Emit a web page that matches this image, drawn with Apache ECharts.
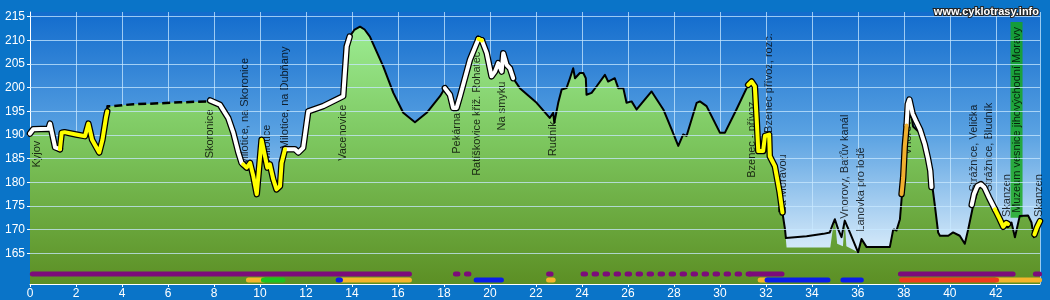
<!DOCTYPE html>
<html><head><meta charset="utf-8">
<script src="https://cdn.jsdelivr.net/npm/echarts@6/dist/echarts.min.js"></script>
<style>html,body{margin:0;padding:0;background:#0a74c8;}#c{width:1050px;height:300px;}</style>
</head><body><div id="c"></div>
<script>
// ---- DATA ----
const kmTicks = [0,2,4,6,8,10,12,14,16,18,20,22,24,26,28,30,32,34,36,38,40,42];
const elevTicks = [165,170,175,180,185,190,195,200,205,210,215];

// terrain profile [km, elevation m]
const terrain = [
[0,190.3],[0.14,191.2],[0.8,191.3],[0.87,192.4],[0.95,192.3],[1.09,187.4],[1.3,187],[1.38,190.5],[1.5,190.6],[2.0,190.1],[2.39,189.75],[2.54,192.4],[2.7,189],[3.01,186.3],[3.15,189],[3.3,193.6],[3.36,195],[3.37,196.1],[3.55,196.1],[4.5,196.5],[5.14,196.6],[6.5,196.9],[7.75,197.1],[7.83,197.3],
[8.26,196.4],[8.62,193.6],[8.84,190.5],[9.06,186.3],[9.2,184.1],[9.27,183.8],[9.42,183.1],[9.57,184.1],[9.71,181.3],[9.86,177.5],[10.07,189],[10.22,185.5],[10.32,183.1],[10.43,183.8],[10.58,180.6],[10.72,178.5],[10.87,179.2],[10.94,184.1],[11.09,187],[11.52,187],[11.67,186.3],[11.88,187.3],[12.1,195],[12.75,196.1],[13.62,198.2],[13.7,203.8],[13.77,208.7],[13.9,210.8],
[14.1,212.2],[14.35,212.9],[14.55,212.3],[14.78,210.8],[15.36,204.5],[15.8,198.9],[16.23,194.7],[16.74,192.7],[17.25,194.7],[17.83,198.2],[18.04,199.9],[18.12,200.3],[18.26,198.5],[18.4,195.7],[18.55,195.7],[18.7,198.2],[19.13,205.9],[19.5,210.3],[19.57,210.5],[19.65,210.0],[19.86,207.3],[20.07,202.4],[20.22,203.4],[20.36,205.2],[20.51,203.4],[20.58,207.3],[20.73,204.8],[20.87,204.1],[21.01,202.0],
[21.3,199.9],[22.03,196.8],[22.6,193.6],[22.75,194.7],[22.8,192.6],[22.97,196.8],[23.12,199.6],[23.33,199.9],[23.48,202],[23.62,204.1],[23.7,202],[23.91,203.1],[24.06,203.1],[24.17,202],[24.2,198.5],[24.42,198.9],[24.64,200.3],[25,202.7],[25.14,201.3],[25.43,202],[25.58,199.9],[25.8,199.9],[25.94,196.8],[26.16,197.1],[26.38,195.4],[27.03,199.2],[27.54,195.4],[27.9,191.2],[28.19,187.7],[28.4,190.1],[28.55,189.8],[28.99,196.8],[29.13,197.1],[29.42,196.1],[30,190.5],[30.22,190.5],[30.72,195.4],
[31.23,200.6],[31.38,201.3],[31.52,200.3],[31.6,193.3],[31.67,186.6],[31.88,186.6],[31.96,189.8],[32.14,190.1],[32.17,185.5],[32.39,183.4],[32.6,177.8],[32.72,173.6],[32.83,170.1],
[32.9,166.2],[34.8,166.2],[34.95,171.5],[35.0,172.2],[35.1,167],[35.35,166.5],[35.43,171.9],[35.5,166.5],[36.01,165.2],[36.16,168],[36.38,166.3],[37.39,166.3],[37.54,170.1],
[37.68,169.8],[37.83,172.2],[37.97,180.6],[38.19,194.7],[38.29,195.4],[38.4,191.8],[38.62,190.8],[38.77,189.8],[38.99,184.9],[39.2,180.6],[39.35,175],[39.49,169.4],[39.57,168.7],[39.93,168.7],[40.14,169.4],[40.43,168.7],[40.65,167],[40.8,170.1],[41.01,175],[41.23,178.5],[41.38,179.2],[41.6,177.8],[41.96,174.3],[42.32,170.8],[42.53,170.5],[42.68,171.5],[42.83,168.4],[43.04,172.9],[43.12,173],[43.4,173],[43.55,171.5],[43.65,168.4],[43.77,170.5],[43.92,171.5]
];
// route line on the embankment above the floodplain
const routeLow = [[32.83,170.1],[32.87,168.2],[33.77,168.6],[34.5,169.1],[34.78,169.4],[34.9,171],[35.0,172.2],[35.14,170.1],[35.29,168.4],[35.43,171.9],[35.65,169.4],[36.01,165.2],[36.16,168],[36.38,166.3],[37.39,166.3],[37.54,170.1]];

const dashedKm = [3.36, 7.83];
const floodKm = [32.83, 37.54];

// highlighted route stretches taken from the terrain profile (km ranges)
const whiteKm = [[0,1.3],[7.83,9.27],[11.09,13.9],[18.04,19.5],[19.65,21.01]];
const yellowKm = [[1.3,3.36],[9.27,11.09],[19.5,19.65],[31.23,32.72]];
// highlighted stretches drawn apart from the terrain outline
const whiteVnorovy = [[38.12,192],[38.17,196.5],[38.24,197.5],[38.31,197.2],[38.38,194.5],[38.52,193.0],[38.7,191.2],[38.91,188],[39.05,185],[39.15,182.4],[39.2,179]];
const whiteStraznice = [[40.95,175.2],[41.05,177.5],[41.2,179.2],[41.35,179.6],[41.5,178.9],[41.7,176.8],[41.96,174.3]];
const yellowSkanzen1 = [[41.96,174.3],[42.17,172.2],[42.32,170.6],[42.45,171.4],[42.53,171.2]];
const yellowSkanzen2 = [[43.68,169],[43.8,170.6],[43.92,171.8]];
const orangeVnorovy = [[37.9,177.5],[37.97,181],[38.04,187.6],[38.12,192]];

// surface bands at the bottom (km ranges)
const purpleSolid = [[0.1,16.5],[31.3,32.7],[37.85,42.75],[43.72,43.9]];
const purpleDotted = [[18.5,19.2],[22.55,22.75],[24.05,31.3]];
const orangeBand = [[9.5,10.15],[13.55,16.5],[22.55,22.75],[31.75,32.0],[42.03,43.9]];
const greenBand = [[10.15,11.0]];
const blueBand = [[13.4,13.5],[19.4,20.5],[32.05,34.7],[35.35,36.15]];
const redBand = [[37.9,42.03]];

// place names: [km, elevation of the text end, name]
const places = [
[0.30,188.8,'Kyjov'],
[7.83,195.4,'Skoronice'],
[9.35,206.3,'Milotice, na Skoronice'],
[10.3,192.2,'Milotice'],
[11.09,208.7,'Milotice, na Dubňany'],
[13.61,196.4,'Vacenovice'],
[18.55,194.7,'Pekárna'],
[19.42,207.6,'Ratíškovice křiž. Rohatec'],
[20.51,201.3,'Na smyku'],
[22.75,192.9,'Rudník'],
[31.38,197.1,'Bzenec - přívoz'],
[32.14,211.5,'Bzenec přívoz, rozc.'],
[32.75,185.9,'Za Moravou'],
[35.43,194.3,'Vnorovy, Baťův kanál'],
[36.13,187.4,'Lanovka pro lodě'],
[38.17,194.3,'Vnorovy'],
[41.06,196.4,'Strážnice, Velička'],
[41.71,196.8,'Strážnice, Bludník'],
[42.47,181.7,'Skanzen'],
[42.9,213.9,'Muzeum vesnice jihovýchodní Moravy'],
[43.88,181.7,'Skanzen']
];
const museumName = 'Muzeum vesnice jihovýchodní Moravy';
const watermark = 'www.cyklotrasy.info';

// ---- RENDERING ----
const FONT = '"Liberation Sans", Arial, sans-serif';
const PURPLE_Y = 160.61, ROW2_Y = 159.34;
const G = echarts.graphic;
const inRange = (r) => terrain.filter(p => p[0] >= r[0] - 1e-9 && p[0] <= r[1] + 1e-9);
const series = [];

// horizontal grid lines (behind terrain)
series.push({
  type: 'line', data: [[0, elevTicks[0]]], symbol: 'none', lineStyle: {opacity: 0}, z: 1, silent: true,
  markLine: { silent: true, symbol: 'none', label: {show: false},
    lineStyle: {color: 'rgba(200,232,255,0.75)', width: 1, type: 'solid'},
    data: elevTicks.map(v => ({yAxis: v})) }
});
// terrain area
series.push({
  type: 'line', data: terrain, symbol: 'none', z: 2, silent: true,
  lineStyle: {width: 0},
  areaStyle: { origin: 'start', opacity: 1,
    color: new G.LinearGradient(0, 0, 0, 1, [
      {offset: 0, color: '#9cec92'}, {offset: 0.45, color: '#7cc65e'}, {offset: 1, color: '#5c8f24'}]) }
});
// labels
series.push({
  type: 'scatter', z: 3, silent: true, symbolSize: 1, itemStyle: {color: 'rgba(0,0,0,0)'},
  data: places.map(p => {
    const it = {value: [p[0], p[1]], name: p[2]};
    if (p[2] === museumName) {
      it.label = {backgroundColor: '#14a814', padding: [1, 5, 0, 5]};
    }
    return it;
  }),
  label: { show: true, position: 'inside', rotate: 90, align: 'right', verticalAlign: 'middle',
    formatter: (d) => d.name, color: '#000', fontSize: 11, fontFamily: FONT }
});
// terrain outline
const outline = (data, dashed) => ({
  type: 'line', data, symbol: 'none', z: 4, silent: true,
  lineStyle: {color: '#000', width: dashed ? 2.5 : 2, type: dashed ? [8, 4] : 'solid', join: 'round'}
});
series.push(outline(terrain.filter(p => p[0] <= dashedKm[0]), false));
series.push(outline(inRange(dashedKm), true));
series.push(outline(terrain.filter(p => p[0] >= dashedKm[1] && p[0] <= floodKm[0]), false));
series.push(outline(routeLow, false));
series.push(outline(terrain.filter(p => p[0] >= floodKm[1]), false));
// highlighted stretches
const hlSets = [];
whiteKm.forEach(r => hlSets.push([inRange(r), '#ffffff']));
yellowKm.forEach(r => hlSets.push([inRange(r), '#ffff00']));
hlSets.push([whiteVnorovy, '#ffffff']);
hlSets.push([whiteStraznice, '#ffffff']);
hlSets.push([yellowSkanzen1, '#ffff00']);
hlSets.push([yellowSkanzen2, '#ffff00']);
hlSets.push([orangeVnorovy, '#f0b030']);
hlSets.forEach(([d]) => series.push({type: 'line', data: d, symbol: 'none', z: 5, silent: true,
  lineStyle: {color: '#000', width: 6.5, cap: 'round', join: 'round'}}));
hlSets.forEach(([d, c]) => series.push({type: 'line', data: d, symbol: 'none', z: 6, silent: true,
  lineStyle: {color: c, width: 4, cap: 'round', join: 'round'}}));
// bottom bands
const band = (ranges, y, color, dotted) => ranges.forEach(r => series.push({
  type: 'line', data: [[r[0], y], [r[1], y]], symbol: 'none', z: 7, silent: true,
  lineStyle: {color, width: 5, cap: 'round', type: dotted ? [2.5, 8.5] : 'solid'}
}));
band(purpleSolid, PURPLE_Y, '#7c0c7a', false);
band(purpleDotted, PURPLE_Y, '#7c0c7a', true);
band(orangeBand, ROW2_Y, '#f4b52c', false);
band(greenBand, ROW2_Y, '#1ec21e', false);
band(blueBand, ROW2_Y, '#0a1ee8', false);
band(redBand, ROW2_Y, '#f03a1c', false);

const chart = echarts.init(document.getElementById('c'), null, {renderer: 'canvas'});
chart.setOption({
  animation: false,
  backgroundColor: '#0a74c8',
  title: { text: watermark, right: 4, top: 1,
    textStyle: {color: '#fff', fontSize: 11, fontWeight: 'bold', fontFamily: FONT, textBorderColor: '#222', textBorderWidth: 2} },
  grid: { left: 30, right: 10, top: 12, bottom: 15, show: true, borderWidth: 0,
    backgroundColor: new G.LinearGradient(0, 0, 0, 1, [
      {offset: 0, color: '#126ccd'}, {offset: 0.45, color: '#5aa2e2'}, {offset: 0.85, color: '#cfe6f8'}, {offset: 1, color: '#e6f3fd'}]) },
  xAxis: { type: 'value', min: 0, max: 43.92, interval: 2,
    axisLine: {show: true, onZero: false, lineStyle: {color: '#fff', width: 1}},
    axisTick: {show: true, length: 3, lineStyle: {color: '#fff'}},
    axisLabel: {color: '#fff', fontSize: 12, fontFamily: FONT, margin: 4, showMaxLabel: false,
      formatter: v => kmTicks.includes(v) ? String(v) : ''},
    splitLine: {show: true, lineStyle: {color: 'rgba(200,232,255,0.75)', width: 1}} },
  yAxis: { type: 'value', min: 158.5, max: 216,
    axisLine: {show: true, lineStyle: {color: '#fff', width: 1}},
    axisTick: {show: true, length: 3, customValues: elevTicks, lineStyle: {color: '#fff'}},
    axisLabel: {color: '#fff', fontSize: 12, fontFamily: FONT, margin: 5, customValues: elevTicks},
    splitLine: {show: false} },
  series
});
</script>
</body></html>
